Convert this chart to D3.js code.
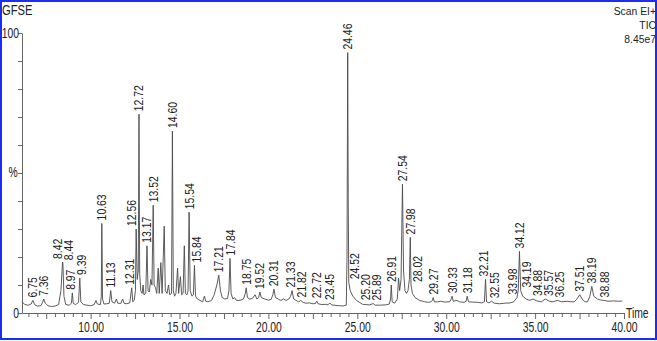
<!DOCTYPE html>
<html>
<head>
<meta charset="utf-8">
<script src="https://cdn.jsdelivr.net/npm/d3@7"></script>
<style>
  body { margin: 0; background: #fff; }
  svg { display: block; font-family: "Liberation Sans", Arial, sans-serif; }
</style>
</head>
<body>
<div id="chart"></div>
<script>
// TIC trace: [retention time (min), intensity (%)]
const trace = [
  [6.15, 4.0], [6.3, 3.0], [6.5, 2.8], [6.65, 3.2], [6.75, 4.5], [6.85, 3.0], [7.0, 2.5], [7.2, 2.6],
  [7.3, 3.8], [7.36, 5.0], [7.45, 3.5], [7.6, 2.6], [7.8, 2.3], [8.0, 2.5], [8.2, 3.0], [8.33, 8],
  [8.42, 18.2], [8.44, 17.8], [8.5, 6], [8.6, 3.0], [8.8, 2.8], [8.92, 3.5], [8.97, 7.2], [9.02, 3.5],
  [9.15, 3.0], [9.32, 3.8], [9.39, 12.5], [9.45, 4.0], [9.6, 3.0], [9.8, 2.8], [10.0, 2.6], [10.2, 3.0],
  [10.3, 4.5], [10.38, 3.2], [10.55, 3.0], [10.6, 6], [10.63, 32], [10.67, 5], [10.75, 3.2], [10.9, 3.3],
  [11.05, 3.5], [11.13, 8], [11.2, 4], [11.35, 3.5], [11.45, 5.0], [11.52, 3.5], [11.7, 3.4], [11.8, 5],
  [11.88, 3.5], [12.0, 3.3], [12.2, 3.6], [12.31, 9], [12.37, 4], [12.45, 4.5], [12.52, 8], [12.56, 30],
  [12.62, 12], [12.68, 15], [12.72, 71], [12.76, 14], [12.82, 8], [12.9, 7], [12.95, 10], [13.0, 6.5],
  [13.1, 7], [13.17, 24], [13.23, 8], [13.3, 7.5], [13.38, 12], [13.45, 10], [13.52, 38.5], [13.57, 10],
  [13.65, 9], [13.72, 7], [13.8, 16], [13.86, 7], [13.95, 18], [14.02, 7], [14.14, 31], [14.2, 8],
  [14.3, 7], [14.38, 10], [14.45, 6.5], [14.55, 7], [14.6, 65], [14.65, 8], [14.72, 6], [14.8, 7],
  [14.89, 16], [14.95, 7], [15.05, 13], [15.12, 6.5], [15.2, 7], [15.27, 24], [15.33, 7], [15.42, 6.5],
  [15.48, 8], [15.54, 36], [15.6, 8], [15.7, 6], [15.78, 6.5], [15.84, 17], [15.9, 6], [16.0, 5],
  [16.15, 4.5], [16.3, 4], [16.4, 6], [16.48, 4.2], [16.6, 4], [16.8, 4.5], [16.95, 6.5], [17.1, 10],
  [17.21, 13.5], [17.3, 8], [17.4, 5.5], [17.55, 5], [17.7, 5.2], [17.78, 8], [17.84, 19.5], [17.9, 7],
  [18.0, 5], [18.1, 5.5], [18.2, 4.5], [18.4, 4.5], [18.6, 5], [18.7, 7], [18.75, 9], [18.82, 5.5],
  [18.95, 5], [19.1, 5.2], [19.25, 6.5], [19.35, 5], [19.45, 5.5], [19.52, 7.5], [19.6, 5.5], [19.8, 5],
  [20.0, 4.6], [20.15, 4.8], [20.25, 6.5], [20.31, 8.5], [20.4, 5.5], [20.55, 5], [20.7, 4.5], [20.85, 5],
  [21.0, 4.5], [21.15, 5], [21.25, 6], [21.33, 8], [21.42, 5], [21.55, 4.5], [21.7, 4], [21.82, 4.5],
  [21.95, 3.8], [22.1, 3.5], [22.3, 3.6], [22.5, 3.3], [22.65, 3.4], [22.72, 4.2], [22.8, 3.3], [23.0, 3.0],
  [23.2, 3.1], [23.35, 2.9], [23.45, 3.6], [23.55, 2.9], [23.8, 2.7], [24.0, 2.6], [24.2, 2.5], [24.38, 2.8],
  [24.42, 20], [24.46, 93], [24.49, 40], [24.52, 11], [24.6, 8], [24.75, 6], [24.95, 4.5], [25.2, 3.5],
  [25.3, 3.1], [25.5, 3.0], [25.7, 2.9], [25.89, 3.4], [26.0, 2.8], [26.3, 2.8], [26.6, 2.9], [26.8, 3.2],
  [26.87, 5], [26.91, 10], [26.96, 4], [27.1, 3.5], [27.25, 5], [27.32, 12.5], [27.38, 8], [27.46, 12],
  [27.54, 46], [27.6, 15], [27.68, 8], [27.76, 7], [27.85, 8], [27.93, 12], [27.98, 27], [28.02, 10],
  [28.1, 7], [28.25, 5.5], [28.5, 4.5], [28.8, 4], [29.0, 3.8], [29.15, 4], [29.22, 4.5], [29.27, 5.5],
  [29.33, 4], [29.5, 4], [29.7, 4.2], [29.9, 3.9], [30.2, 4], [30.28, 5], [30.33, 6], [30.4, 4.2],
  [30.6, 4.5], [30.75, 4], [31.0, 3.8], [31.12, 4.2], [31.18, 6], [31.25, 4], [31.5, 3.9], [31.8, 3.8],
  [32.0, 3.6], [32.15, 4], [32.21, 12], [32.27, 4], [32.4, 3.6], [32.55, 4.2], [32.7, 3.5], [33.0, 3.3],
  [33.3, 3.5], [33.6, 3.6], [33.8, 4], [33.98, 5.5], [34.05, 8], [34.12, 22], [34.19, 8], [34.3, 6],
  [34.5, 5], [34.7, 4.5], [34.88, 5], [35.1, 4.3], [35.35, 4], [35.57, 5], [35.8, 4.2], [36.0, 4],
  [36.25, 4.5], [36.5, 4], [36.8, 4.2], [37.0, 4], [37.2, 4], [37.35, 5], [37.51, 6.5], [37.65, 5],
  [37.8, 4], [37.95, 4], [38.08, 6], [38.19, 9.5], [38.3, 6], [38.5, 5], [38.7, 4.6], [38.88, 4.5],
  [39.1, 4.2], [39.4, 4.3], [39.7, 4.2], [39.9, 4.3]
];

// labelled peaks (retention times as printed)
const peakLabels = [
  "6.75", "7.36", "8.42", "8.44", "8.97", "9.39", "10.63", "11.13", "12.31", "12.56", "12.72",
  "13.17", "13.52", "14.60", "15.54", "15.84", "17.21", "17.84", "18.75", "19.52", "20.31",
  "21.33", "21.82", "22.72", "23.45", "24.46", "24.52", "25.20", "25.89", "26.91", "27.54",
  "27.98", "28.02", "29.27", "30.33", "31.18", "32.21", "32.55", "33.98", "34.12", "34.19",
  "34.88", "35.57", "36.25", "37.51", "38.19", "38.88"
];

const xLabelTicks = [10, 15, 20, 25, 30, 35, 40];
const yTicks = [0, 10, 20, 30, 40, 50, 60, 70, 80, 90, 100];
const titleLeft = "GFSE";
const titleRight = ["Scan  EI+", "TIC", "8.45e7"];

const W = 657, H = 341;
const squeeze = 0.74;  // the instrument font is narrow

const svg = d3.select("#chart").append("svg")
  .attr("width", W)
  .attr("height", H);

const x = d3.scaleLinear().domain([6.14, 40]).range([22, 624]);
const y = d3.scaleLinear().domain([0, 100]).range([313, 33]);

// header texts
svg.append("text")
  .attr("transform", `translate(2,15) scale(0.8,1)`)
  .style("font-size", "14px").attr("fill", "#222")
  .text(titleLeft);

svg.selectAll(".hdr").data(titleRight).enter().append("text")
  .attr("class", "hdr")
  .attr("transform", (d, i) => `translate(656,${[14.5, 28.5, 42.5][i]}) scale(0.9,1)`)
  .attr("text-anchor", "end")
  .style("font-size", "11.5px").attr("fill", "#222")
  .text(d => d);

// y axis
const yAxis = svg.append("g")
  .attr("transform", "translate(22,0)")
  .call(d3.axisLeft(y).tickValues(yTicks).tickSize(4).tickSizeOuter(0)
    .tickFormat(d => (d === 0 || d === 100) ? d : ""));
yAxis.select(".domain").attr("stroke", "#666");
yAxis.selectAll(".tick line").attr("stroke", "#666");
yAxis.selectAll("text")
  .attr("x", -3 / squeeze)
  .attr("transform", `scale(${squeeze},1)`)
  .style("font-size", "14px").attr("fill", "#222");

svg.append("text")
  .attr("transform", `translate(13,177) scale(${squeeze},1)`)
  .attr("text-anchor", "middle")
  .style("font-size", "14px").attr("fill", "#222")
  .text("%");

// x axis: minor ticks every 0.5 min, longer ones every 2.5 min
const xAxis = svg.append("g")
  .attr("transform", "translate(0,313)")
  .call(d3.axisBottom(x).tickValues(d3.range(6.5, 40.01, 0.5)).tickSize(4).tickSizeOuter(0)
    .tickFormat(d => xLabelTicks.includes(d) ? d.toFixed(2) : ""));
xAxis.select(".domain").attr("stroke", "#666");
xAxis.selectAll(".tick line")
  .attr("stroke", "#666")
  .attr("y2", d => (d % 2.5 === 0) ? 6 : 4);
xAxis.selectAll("text")
  .attr("y", 9)
  .attr("transform", `scale(${squeeze},1)`)
  .style("font-size", "14px").attr("fill", "#222");

svg.append("text")
  .attr("transform", `translate(626,318) scale(${squeeze},1)`)
  .style("font-size", "14px").attr("fill", "#222")
  .text("Time");

// chromatogram trace
const line = d3.line().x(d => x(d[0])).y(d => y(d[1]));
svg.append("path")
  .datum(trace)
  .attr("fill", "none")
  .attr("stroke", "#4a4a4a")
  .attr("stroke-width", 0.9)
  .attr("stroke-linejoin", "round")
  .attr("d", line);

// peak labels, nudged sideways so they do not sit on neighbouring peaks
const peaks = peakLabels.map(lbl => {
  const t = +lbl;
  const pt = trace.find(p => Math.abs(p[0] - t) < 1e-6);
  return { lbl, px: x(t), py: y(pt[1]), cx: x(t) };
});

const labelSize = 13, labelScale = 0.8;
const labels = svg.append("g").selectAll("text").data(peaks).enter().append("text")
  .style("font-size", labelSize + "px")
  .attr("fill", "#222")
  .text(d => d.lbl);

labels.each(function (d) {
  d.len = this.getComputedTextLength() * labelScale;
  d.bottom = d.py - 3;
  d.top = d.bottom - d.len;
});

const clear = 7, gap = 11;
for (let it = 0; it < 30; it++) {
  peaks.forEach(a => {
    peaks.forEach(b => {
      if (a === b) return;
      // keep off other peaks' vertical lines
      if (b.py < a.bottom && Math.abs(a.cx - b.px) < clear) {
        const s = a.cx >= b.px ? 1 : -1;
        a.cx = b.px + s * clear;
      }
    });
  });
  for (let i = 0; i < peaks.length; i++) {
    for (let j = i + 1; j < peaks.length; j++) {
      const a = peaks[i], b = peaks[j];
      const vOverlap = a.top < b.bottom && b.top < a.bottom;
      const d = b.cx - a.cx;
      if (vOverlap && Math.abs(d) < gap) {
        const push = (gap - Math.abs(d)) / 2;
        a.cx -= push;
        b.cx += push;
      }
    }
  }
}

labels.attr("transform", d =>
  `translate(${d.cx + 4.5},${d.bottom}) rotate(-90) scale(${labelScale},1)`);

// frame
svg.append("rect")
  .attr("x", 1).attr("y", 1)
  .attr("width", W - 2).attr("height", H - 3)
  .attr("fill", "none")
  .attr("stroke", "#1c2cf5")
  .attr("stroke-width", 2);
</script>
</body>
</html>
